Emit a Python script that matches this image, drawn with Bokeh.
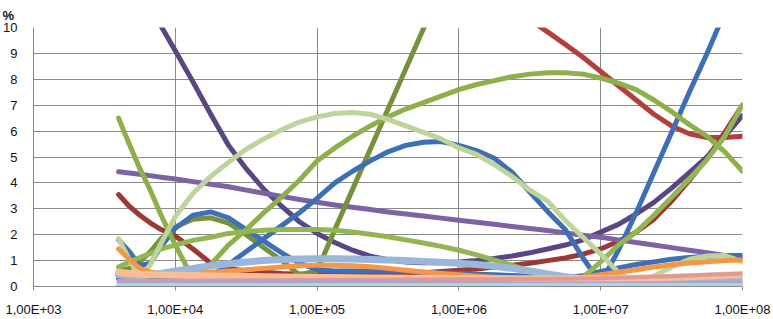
from bokeh.plotting import figure
from bokeh.models import FixedTicker
from bokeh.embed import file_html
from bokeh.resources import INLINE

# x positions (log10 of the x value) shared by all series
log_x = [3.6, 3.675, 3.75, 3.825, 3.9, 4.0, 4.125, 4.25, 4.375, 4.5, 4.625, 4.75,
         4.875, 5.0, 5.125, 5.25, 5.375, 5.5, 5.625, 5.75, 5.875, 6.0, 6.125, 6.25,
         6.375, 6.5, 6.625, 6.75, 6.875, 7.0, 7.125, 7.25, 7.375, 7.5, 7.625, 7.75,
         7.875, 8.0]
x_vals = [10 ** v for v in log_x]

x_ticks = [1e3, 1e4, 1e5, 1e6, 1e7, 1e8]
x_tick_labels = ["1,00E+03", "1,00E+04", "1,00E+05", "1,00E+06", "1,00E+07", "1,00E+08"]
y_ticks = [0, 1, 2, 3, 4, 5, 6, 7, 8, 9, 10]
y_unit = "%"

red_top = [16, 16, 16, 16, 16, 16, 16, 16, 16, 15.9, 15.8, 15.6, 15.4, 15.1, 14.8, 14.5,
           14.2, 13.8, 13.4, 13.0, 12.6, 12.2, 11.75, 11.3, 10.8, 10.3, 9.83, 9.35, 8.85,
           8.3, 7.75, 7.2, 6.65, 6.2, 5.9, 5.75, 5.75, 5.8]
dark_red = [3.55, 3.1, 2.75, 2.45, 2.2, 1.95, 1.45, 0.9, 0.7, 0.6, 0.55, 0.5, 0.48, 0.46,
            0.45, 0.45, 0.45, 0.47, 0.5, 0.53, 0.58, 0.63, 0.68, 0.75, 0.82, 0.9, 1.0,
            1.1, 1.25, 1.45, 1.75, 2.1, 2.6, 3.3, 4.1, 4.95, 5.95, 7.0]
dark_purple = [13.5, 12.6, 11.8, 10.9, 10.05, 9.1, 7.9, 6.65, 5.45, 4.55, 3.75, 3.1, 2.5,
               2.05, 1.7, 1.4, 1.17, 1.03, 0.95, 0.92, 0.92, 0.95, 1.0, 1.08, 1.18, 1.3,
               1.45, 1.6, 1.8, 2.1, 2.4, 2.8, 3.25, 3.8, 4.4, 5.0, 5.8, 6.6]
purple = [4.43, 4.38, 4.33, 4.28, 4.22, 4.15, 4.05, 3.95, 3.85, 3.72, 3.6, 3.48, 3.36,
          3.25, 3.15, 3.06, 2.97, 2.88, 2.8, 2.72, 2.64, 2.56, 2.48, 2.4, 2.32, 2.24,
          2.16, 2.07, 1.98, 1.9, 1.8, 1.7, 1.6, 1.5, 1.4, 1.3, 1.2, 1.1]
olive = [0.6, 0.7, 0.95, 1.35, 1.85, 2.3, 2.6, 2.65, 2.45, 2.0, 1.5, 1.0, 0.45, 0.6, 2.2,
         3.75, 5.3, 6.85, 8.4, 9.95, 11.5, 13, 14.5, 16, 17, 17, 17, 17, 17, 17, 17, 17,
         17, 17, 17, 17, 17, 17]
blue_arch = [0.3, 0.3, 0.3, 0.3, 0.3, 0.25, 0.2, 0.4, 0.85, 1.35, 1.85, 2.35, 2.85, 3.4,
             4.0, 4.45, 4.85, 5.2, 5.45, 5.57, 5.6, 5.45, 5.25, 4.95, 4.4, 3.65, 2.9,
             2.2, 1.1, 0.12, 1.4, 2.85, 4.4, 5.95, 7.5, 9.0, 10.6, 12.1]
blue_hump = [1.8, 1.35, 0.8, 0.9, 1.55, 2.25, 2.75, 2.88, 2.65, 2.2, 1.75, 1.3, 0.9, 0.65,
             0.6, 0.6, 0.6, 0.6, 0.58, 0.55, 0.52, 0.5, 0.47, 0.45, 0.42, 0.4, 0.37, 0.35,
             0.42, 0.58, 0.72, 0.85, 0.95, 1.05, 1.12, 1.17, 1.2, 1.2]
green_arch = [6.5, 5.5, 4.55, 3.7, 2.75, 1.6, 0.3, 0.85, 1.6, 2.2, 2.85, 3.45, 4.1, 4.85,
              5.35, 5.8, 6.2, 6.55, 6.85, 7.1, 7.35, 7.6, 7.8, 7.95, 8.1, 8.2, 8.25, 8.25,
              8.2, 8.05, 7.85, 7.6, 7.2, 6.75, 6.25, 5.8, 5.2, 4.45]
green_plateau = [0.75, 0.95, 1.12, 1.28, 1.45, 1.6, 1.78, 1.9, 2.05, 2.12, 2.17, 2.2, 2.2,
                 2.2, 2.17, 2.1, 2.02, 1.92, 1.8, 1.68, 1.55, 1.4, 1.22, 1.02, 0.82, 0.6,
                 0.35, 0.12, 0.35, 0.95, 1.6, 2.1, 2.75, 3.45, 4.15, 4.9, 5.8, 7.0]
pale_green = [1.85, 1.05, 0.3, 0.86, 1.67, 2.7, 3.6, 4.25, 4.8, 5.3, 5.7, 6.05, 6.35, 6.55,
              6.68, 6.72, 6.65, 6.45, 6.2, 5.95, 5.7, 5.35, 5.1, 4.7, 4.25, 3.72, 3.3,
              2.55, 1.9, 1.25, 0.55, 0.12, 0.4, 0.75, 1.05, 1.18, 1.2, 0.95]
orange = [1.45, 1.05, 0.7, 0.55, 0.5, 0.5, 0.5, 0.55, 0.6, 0.65, 0.7, 0.75, 0.8, 0.82,
          0.82, 0.8, 0.76, 0.7, 0.63, 0.56, 0.5, 0.45, 0.4, 0.36, 0.32, 0.3, 0.3, 0.3,
          0.35, 0.45, 0.55, 0.65, 0.75, 0.84, 0.91, 0.96, 1.0, 1.02]
light_blue = [0.45, 0.4, 0.4, 0.45, 0.5, 0.6, 0.7, 0.8, 0.88, 0.95, 1.0, 1.04, 1.06, 1.07,
              1.07, 1.06, 1.04, 1.02, 1.0, 0.97, 0.94, 0.9, 0.85, 0.78, 0.7, 0.6, 0.48,
              0.38, 0.3, 0.27, 0.25, 0.25, 0.25, 0.25, 0.25, 0.25, 0.25, 0.25]
peach = [0.55, 0.5, 0.47, 0.45, 0.44, 0.43, 0.42, 0.41, 0.4, 0.39, 0.38, 0.37, 0.36, 0.35,
         0.35, 0.34, 0.33, 0.33, 0.32, 0.32, 0.31, 0.31, 0.3, 0.3, 0.3, 0.3, 0.3, 0.3,
         0.3, 0.3, 0.31, 0.32, 0.34, 0.36, 0.38, 0.4, 0.43, 0.45]
rose = [0.22, 0.22, 0.22, 0.22, 0.22, 0.22, 0.23, 0.23, 0.23, 0.24, 0.24, 0.24, 0.25,
        0.25, 0.25, 0.26, 0.26, 0.26, 0.27, 0.27, 0.27, 0.28, 0.28, 0.28, 0.29, 0.29,
        0.3, 0.3, 0.31, 0.32, 0.34, 0.36, 0.38, 0.4, 0.42, 0.45, 0.47, 0.5]
lavender = [0.15, 0.15, 0.15, 0.15, 0.15, 0.16, 0.17, 0.18, 0.19, 0.2, 0.2, 0.2, 0.2, 0.2,
            0.19, 0.18, 0.17, 0.16, 0.15, 0.15, 0.14, 0.14, 0.13, 0.13, 0.12, 0.12, 0.12,
            0.12, 0.12, 0.12, 0.12, 0.12, 0.12, 0.13, 0.13, 0.14, 0.14, 0.15]
cyan = [0.04, 0.04, 0.04, 0.04, 0.04, 0.04, 0.04, 0.04, 0.04, 0.04, 0.04, 0.04, 0.04,
        0.04, 0.04, 0.04, 0.04, 0.04, 0.04, 0.04, 0.04, 0.04, 0.04, 0.04, 0.04, 0.04,
        0.04, 0.04, 0.04, 0.04, 0.04, 0.04, 0.04, 0.04, 0.04, 0.04, 0.04, 0.04]

series = [
    (red_top, "#B23F3B", 5),
    (dark_red, "#9E3835", 5),
    (dark_purple, "#5A4683", 5),
    (purple, "#7E62A6", 5),
    (olive, "#76923C", 5),
    (blue_arch, "#3E6EB4", 5),
    (blue_hump, "#3F6FB6", 5),
    (green_arch, "#8DB04B", 5),
    (green_plateau, "#92B752", 5),
    (pale_green, "#BFD49A", 5),
    (orange, "#F79646", 5),
    (light_blue, "#9AB6D9", 7),
    (peach, "#F9BE97", 7),
    (rose, "#DE9A96", 4),
    (lavender, "#B3A2C7", 4),
    (cyan, "#A8D6E3", 5),
]

p = figure(width=773, height=319, x_axis_type="log", x_range=(1e3, 1e8), y_range=(0, 10),
           output_backend="svg", toolbar_location=None,
           min_border_left=31, min_border_right=31, min_border_top=26, min_border_bottom=29)
p.outline_line_color = None
p.background_fill_color = "white"

p.title.text = y_unit
p.title.align = "left"
p.title.offset = -31
p.title.standoff = 10
p.title.text_font = "Liberation Sans"
p.title.text_font_size = "13px"
p.title.text_font_style = "bold"
p.title.text_color = "#111111"

for vals, color, w in series:
    p.line(x_vals, vals, line_color=color, line_width=w, line_join="round", line_cap="round")

grid_color = "#8a8a8a"
p.xaxis.ticker = FixedTicker(ticks=x_ticks, minor_ticks=[])
p.xaxis.major_label_overrides = {t: s for t, s in zip(x_ticks, x_tick_labels)}
p.yaxis.ticker = FixedTicker(ticks=y_ticks, minor_ticks=[])
p.xgrid.ticker = FixedTicker(ticks=x_ticks, minor_ticks=[])
p.ygrid.ticker = FixedTicker(ticks=y_ticks, minor_ticks=[])
p.xgrid.grid_line_color = grid_color
p.ygrid.grid_line_color = grid_color
p.xgrid.grid_line_width = 1
p.ygrid.grid_line_width = 1

for ax in (p.xaxis[0], p.yaxis[0]):
    ax.axis_line_color = grid_color
    ax.major_tick_line_color = grid_color
    ax.minor_tick_line_color = None
    ax.major_label_text_font = "Liberation Sans"
    ax.major_label_text_font_size = "13px"
    ax.major_label_text_color = "#111111"

p.xaxis.major_tick_out = 4
p.xaxis.major_tick_in = 0
p.xaxis.major_label_standoff = 11
p.yaxis.major_tick_out = 0
p.yaxis.major_tick_in = 0
p.yaxis.major_label_standoff = 16

open("out.html", "w").write(file_html(p, INLINE))
